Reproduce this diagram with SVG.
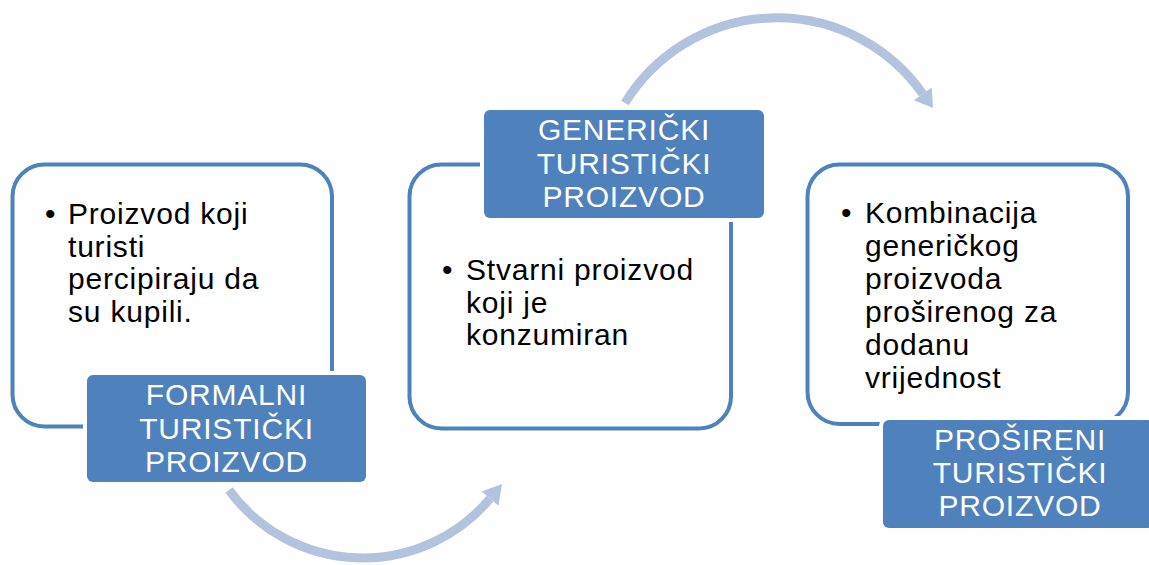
<svg xmlns="http://www.w3.org/2000/svg" width="1149" height="565" viewBox="0 0 1149 565">
  <style>
    .box { fill: #ffffff; stroke: #4f81bd; stroke-width: 4; }
    .lbl { fill: #4f81bd; stroke: #ffffff; stroke-width: 8; paint-order: stroke; }
    .arc { fill: none; stroke: #b3c3de; stroke-width: 9; }
    .head { fill: #b3c3de; }
    .t { font-family: "Liberation Sans", Arial, sans-serif; font-size: 30px; letter-spacing: 0.8px; fill: #000000; }
    .lt { font-family: "Liberation Sans", Arial, sans-serif; font-size: 30px; letter-spacing: 0.8px; fill: #ffffff; text-anchor: middle; }
  </style>
  <rect width="1149" height="565" fill="#ffffff"/>
  <g id="connectors">
    <path class="arc" d="M 229 490 A 166 166 0 0 0 490 498.7"/>
    <polygon class="head" points="502,484 498.4,505.8 481.6,491.6"/>
    <path class="arc" d="M 625 103 A 178 178 0 0 1 922.8 93.9"/>
    <polygon class="head" points="933,108 931.8,87.6 913.8,100.2"/>
  </g>
  <g id="node-formalni">
    <rect class="box" x="12.5" y="164.5" width="319.5" height="262" rx="32"/>
    <text class="t" x="45" y="224">•</text>
    <text class="t" x="68" y="224">Proizvod koji</text>
    <text class="t" x="68" y="256.5">turisti</text>
    <text class="t" x="68" y="289">percipiraju da</text>
    <text class="t" x="68" y="322">su kupili.</text>
    <rect class="lbl" x="87" y="375" width="279" height="107" rx="6"/>
    <text class="lt" x="226.5" y="405">FORMALNI</text>
    <text class="lt" x="226.5" y="438.5">TURISTIČKI</text>
    <text class="lt" x="226.5" y="472">PROIZVOD</text>
  </g>
  <g id="node-genericki">
    <rect class="box" x="409.5" y="164.5" width="321.5" height="264" rx="32"/>
    <text class="t" x="442" y="280">•</text>
    <text class="t" x="466" y="280">Stvarni proizvod</text>
    <text class="t" x="466" y="312.5">koji je</text>
    <text class="t" x="466" y="345">konzumiran</text>
    <rect class="lbl" x="484" y="110" width="280" height="108" rx="6"/>
    <text class="lt" x="624" y="140">GENERIČKI</text>
    <text class="lt" x="624" y="173.5">TURISTIČKI</text>
    <text class="lt" x="624" y="207">PROIZVOD</text>
  </g>
  <g id="node-prosireni">
    <rect class="box" x="807.5" y="164.5" width="320.5" height="259.5" rx="32"/>
    <text class="t" x="841" y="223">•</text>
    <text class="t" x="865" y="223">Kombinacija</text>
    <text class="t" x="865" y="256">generičkog</text>
    <text class="t" x="865" y="289">proizvoda</text>
    <text class="t" x="865" y="322">proširenog za</text>
    <text class="t" x="865" y="355">dodanu</text>
    <text class="t" x="865" y="388">vrijednost</text>
    <rect class="lbl" x="883" y="420" width="270" height="108" rx="6"/>
    <text class="lt" x="1020" y="450">PROŠIRENI</text>
    <text class="lt" x="1020" y="483">TURISTIČKI</text>
    <text class="lt" x="1020" y="516">PROIZVOD</text>
  </g>
</svg>
